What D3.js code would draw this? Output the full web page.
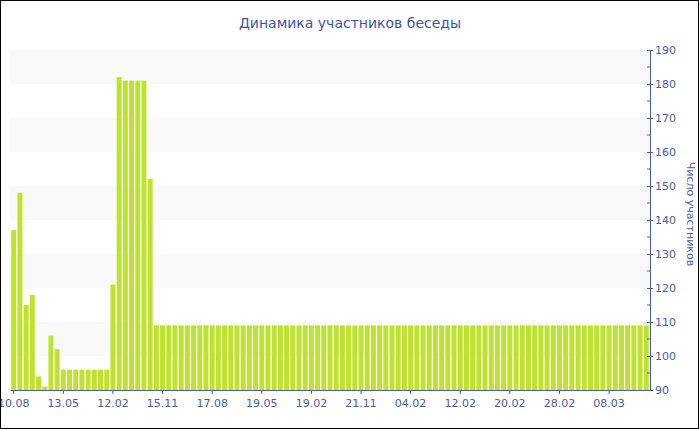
<!DOCTYPE html>
<html><head><meta charset="utf-8">
<script src="https://cdn.jsdelivr.net/npm/d3@7"></script>
<style>body{margin:0;background:#fff}svg{display:block}</style>
</head><body>
<svg id="c" width="700" height="430"></svg>
<script>
const title = "Динамика участников беседы";
const yTitle = "Число участников";
const values = [137,148,115,118,94,91,106,102,
  96,96,96,96,96,96,96,96,
  121,182,181,181,181,181,152,
  109,109,109,109,109,109,109,109,109,109,
  109,109,109,109,109,109,109,109,109,109,
  109,109,109,109,109,109,109,109,109,109,
  109,109,109,109,109,109,109,109,109,109,
  109,109,109,109,109,109,109,109,109,109,
  109,109,109,109,109,109,109,109,109,109,
  109,109,109,109,109,109,109,109,109,109,
  109,109,109,109,109,109,109,109,109,109];
const tickLabels = ["10.08","13.05","12.02","15.11","17.08","19.05","19.02","21.11","04.02","12.02","20.02","28.02","08.03"];
const tickEvery = 8;
const yTicks = [90,100,110,120,130,140,150,160,170,180,190];
const yMinor = [95,105,115,125,135,145,155,165,175,185];
const bandsY = [[180,190],[160,170],[140,150],[120,130],[100,110]];

const svg = d3.select("#c");
const L = 10, R = 650, T = 50, B = 390;
const blue = "#4a5ca3";
const font = "DejaVu Sans, Verdana, sans-serif";

const x = d3.scaleBand().domain(d3.range(values.length)).range([L, R]).paddingInner(0.2).paddingOuter(0.2);
const y = d3.scaleLinear().domain([90,190]).range([B, T]);

// bands
svg.append("g").selectAll("rect").data(bandsY).join("rect")
  .attr("x", L).attr("width", R - L)
  .attr("y", d => y(d[1])).attr("height", d => y(d[0]) - y(d[1]))
  .attr("fill", "#f9f9f9");

// bars
svg.append("g").selectAll("rect").data(values).join("rect")
  .attr("x", (d,i) => x(i)).attr("width", x.bandwidth())
  .attr("y", d => y(d)).attr("height", d => B - y(d))
  .attr("fill", "#bee22f");

// x axis
const xAxis = d3.axisBottom(x)
  .tickValues(d3.range(0, values.length, tickEvery))
  .tickFormat((d) => tickLabels[d / tickEvery])
  .tickSize(4).tickSizeOuter(0);
const gx = svg.append("g").attr("transform", `translate(0,${B})`).call(xAxis);
gx.select(".domain").attr("stroke", blue);
gx.selectAll(".tick line").attr("stroke", blue);
gx.selectAll("text").attr("fill", blue).attr("font-family", font).attr("font-size", 11).attr("dy", "0.95em");

// y axis (right)
const yAxis = d3.axisRight(y).tickValues(yTicks).tickSize(3).tickSizeOuter(0).tickPadding(2);
const gy = svg.append("g").attr("transform", `translate(${R},0)`).call(yAxis);
gy.select(".domain").attr("stroke", blue);
gy.selectAll(".tick line").attr("stroke", blue).attr("x1", -3);
gy.selectAll("text").attr("fill", blue).attr("font-family", font).attr("font-size", 11);
gy.append("g").selectAll("line").data(yMinor).join("line")
  .attr("x1", -3).attr("x2", 0).attr("y1", d => y(d)).attr("y2", d => y(d)).attr("stroke", blue);

// title
svg.append("text").attr("x", 350).attr("y", 28).attr("text-anchor", "middle")
  .attr("fill", "#3d55a3").attr("font-family", font).attr("font-size", 14).text(title);

// y title
svg.append("text").attr("transform", `translate(687,${(T+B)/2 - 6}) rotate(90)`)
  .attr("text-anchor", "middle").attr("fill", blue).attr("font-family", font).attr("font-size", 11)
  .text(yTitle);

// border
svg.append("rect").attr("x", 0.5).attr("y", 0.5).attr("width", 698).attr("height", 428)
  .attr("fill", "none").attr("stroke", "#000");
</script>
</body></html>
